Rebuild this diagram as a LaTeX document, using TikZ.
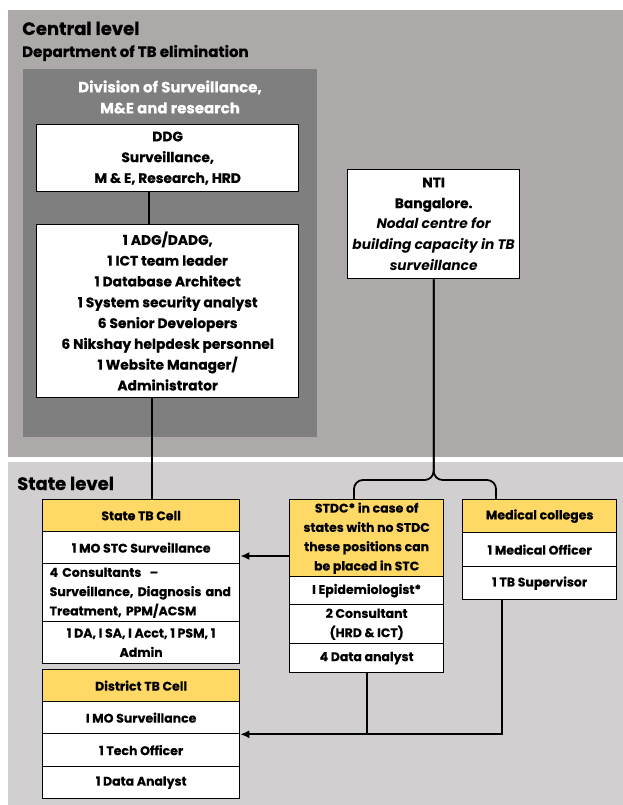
\documentclass[tikz,border=0pt]{standalone}
\usepackage{fontspec}
\setmainfont{Poppins}[BoldFeatures={FakeBold=0.4}]
\usetikzlibrary{arrows.meta}
\definecolor{centralgray}{HTML}{ADA9A8}
\definecolor{stategray}{HTML}{D1CFD0}
\definecolor{divgray}{HTML}{7F7F7F}
\definecolor{headyellow}{HTML}{FFD966}
\begin{document}
\begin{tikzpicture}[x=1pt,y=-1pt,
  cell/.style={draw=black, line width=1.3pt, fill=white, inner sep=0pt,
    anchor=north west, align=center, font=\fontsize{13.8}{20.8}\selectfont\bfseries},
  scell/.style={cell, font=\fontsize{12.5}{19.3}\selectfont\bfseries},
  head/.style={scell, fill=headyellow},
  link/.style={line width=1.8pt, black},
  arr/.style={link, -{Latex[length=9pt,width=8pt]}},
  panel/.style={draw=none, inner sep=0pt, anchor=north west}]
\useasboundingbox (0,0) rectangle (623,805);
\fill[white] (0,0) rectangle (623,805);

% level panels
\node[panel, fill=centralgray, minimum width=615pt, minimum height=447pt] (central) at (8,10) {};
\node[panel, fill=stategray, minimum width=615pt, minimum height=343pt] (state) at (8,462) {};
\node[panel, fill=divgray, minimum width=294pt, minimum height=368pt] (division) at (23,69) {};

% headings
\node[anchor=base west, inner sep=0pt, font=\fontsize{18}{22}\selectfont\bfseries] (ctitle) at (22,35) {Central level};
\node[anchor=base west, inner sep=0pt, font=\fontsize{15}{18}\selectfont\bfseries] (dept) at (22,57) {Department of TB elimination};
\node[align=center, inner sep=0pt, text=white, font=\fontsize{15}{21}\selectfont\bfseries] (divtitle) at (170,97) {Division of Surveillance,\\M\&E and research};
\node[anchor=base west, inner sep=0pt, font=\fontsize{18}{22}\selectfont\bfseries] (stitle) at (17,490) {State level};

% central level
\node[cell, minimum width=262pt, minimum height=67pt] (ddg) at (36,124)
  {DDG\\Surveillance,\\M \& E, Research, HRD};
\node[cell, minimum width=262pt, minimum height=173pt] (adg) at (36,224)
  {1 ADG/DADG,\\1 ICT team leader\\1 Database Architect\\1 System security analyst\\6 Senior Developers\\6 Nikshay helpdesk personnel\\1 Website Manager/\\Administrator};
\node[cell, minimum width=172pt, minimum height=109pt] (nti) at (347,169)
  {NTI\\Bangalore.\\{\itshape Nodal centre for}\\{\itshape building capacity in TB}\\{\itshape surveillance}};

% state TB cell
\node[head, minimum width=197pt, minimum height=32pt] (stc0) at (42,499) {State TB Cell};
\node[scell, minimum width=197pt, minimum height=32pt] (stc1) at (42,531) {1 MO STC Surveillance};
\node[scell, minimum width=197pt, minimum height=58pt, text width=183pt, align=left] (stc2) at (42,563)
  {4 Consultants\ \ --\\Surveillance, Diagnosis and\\Treatment, PPM/ACSM};
\node[scell, minimum width=197pt, minimum height=42pt] (stc3) at (42,621) {1 DA, I SA, I Acct, 1 PSM, 1\\Admin};

% district TB cell
\node[head, minimum width=197pt, minimum height=32pt] (dt0) at (42,669) {District TB Cell};
\node[scell, minimum width=197pt, minimum height=32pt] (dt1) at (42,701) {I MO Surveillance};
\node[scell, minimum width=197pt, minimum height=33pt] (dt2) at (42,733) {1 Tech Officer};
\node[scell, minimum width=197pt, minimum height=32pt] (dt3) at (42,766) {1 Data Analyst};

% STDC
\node[head, minimum width=154pt, minimum height=77pt] (sd0) at (289,499)
  {STDC* in case of\\states with no STDC\\these positions can\\be placed in STC};
\node[scell, minimum width=154pt, minimum height=28pt] (sd1) at (289,576) {I Epidemiologist*};
\node[scell, minimum width=154pt, minimum height=39pt] (sd2) at (289,604) {2 Consultant\\(HRD \& ICT)};
\node[scell, minimum width=154pt, minimum height=29pt] (sd3) at (289,643) {4 Data analyst};

% medical colleges
\node[head, minimum width=154pt, minimum height=33pt] (md0) at (462,499) {Medical colleges};
\node[scell, minimum width=154pt, minimum height=34pt] (md1) at (462,532) {1 Medical Officer};
\node[scell, minimum width=154pt, minimum height=33pt] (md2) at (462,566) {1 TB Supervisor};

% connectors
\draw[link] ([xshift=113pt]ddg.south west) -- ([xshift=113pt]adg.north west);
\draw[link] ([xshift=116pt]adg.south west) -- ([xshift=110pt]stc0.north west);

\coordinate (sdin) at ([xshift=65pt]sd0.north west);
\coordinate (mdin) at ([xshift=34pt]md0.north west);
\draw[link, rounded corners=9pt] (nti.south) -- (nti.south |- 0,480) -- (sdin |- 0,480) -- (sdin);
\draw[link, rounded corners=9pt] (nti.south) -- (nti.south |- 0,480) -- (mdin |- 0,480) -- (mdin);

\coordinate (sdout) at ([yshift=-57pt]sd0.north west);
\draw[arr] (sdout) -- (sdout -| stc1.east);

\coordinate (mdout) at ([xshift=40pt]md2.south west);
\draw[link] (mdout) -- (mdout |- dt1.south east) -- (sd3.south |- dt1.south east);
\draw[arr] (sd3.south) -- (sd3.south |- dt1.south east) -- (dt1.south east);
\end{tikzpicture}
\end{document}
